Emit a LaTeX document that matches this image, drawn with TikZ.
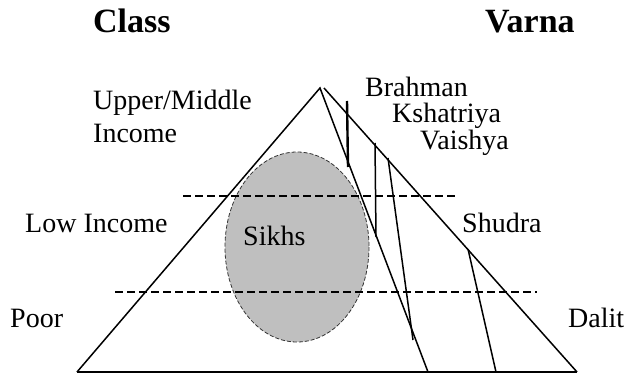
\documentclass[tikz,border=0pt]{standalone}
\usepackage{fontspec}
\setmainfont{Liberation Serif}

\begin{document}
\begin{tikzpicture}[x=1pt,y=-1pt,
    lbl/.style={anchor=base west,inner sep=0pt,font=\fontsize{28}{33}\selectfont},
    head/.style={anchor=base west,inner sep=0pt,font=\fontsize{34}{40}\selectfont\bfseries},
    side/.style={line width=1.5pt},
    level/.style={line width=1.2pt,dash pattern=on 8pt off 4pt}]
  \useasboundingbox (0,0) rectangle (626,374);
  % corners of the pyramid
  \coordinate (apex) at (320,88);
  \coordinate (top) at (324,88);
  \coordinate (bl) at (77,372);
  \coordinate (br) at (577,372);
  \coordinate (split) at (428,372);
  % sikh population
  \draw[black!80,line width=0.8pt,dash pattern=on 4pt off 2pt,fill=black!25] (297,247) ellipse (72 and 95);
  % income levels
  \draw[level] (183,196) -- (457,196);
  \draw[level] (115,292) -- (537,292);
  % pyramid
  \draw[side] (bl) -- (apex) -- (split);
  \draw[side] (top) -- (br);
  \draw[line width=2pt] (bl) -- (br);
  \draw[line width=2.4pt] (347,101) -- (348,167);
  \draw[side] (375,143) -- (376,237);
  \draw[side] (388,158) -- (413,340);
  \draw[side] (468,249) -- (496,372);
  % labels
  \node[head] (class) at (93,33) {Class};
  \node[head] (varna) at (485,33) {Varna};
  \node[lbl] (upper) at (93,110) {Upper/Middle};
  \node[lbl] (income) at (93,143) {Income};
  \node[lbl] (low) at (25,232) {Low Income};
  \node[lbl] (poor) at (10,327) {Poor};
  \node[lbl] (brahman) at (365,97) {Brahman};
  \node[lbl] (kshatriya) at (392,123) {Kshatriya};
  \node[lbl] (vaishya) at (420,150) {Vaishya};
  \node[lbl] (shudra) at (462,232) {Shudra};
  \node[lbl] (dalit) at (568,327) {Dalit};
  \node[lbl] (sikhs) at (243,245) {Sikhs};
\end{tikzpicture}
\end{document}
